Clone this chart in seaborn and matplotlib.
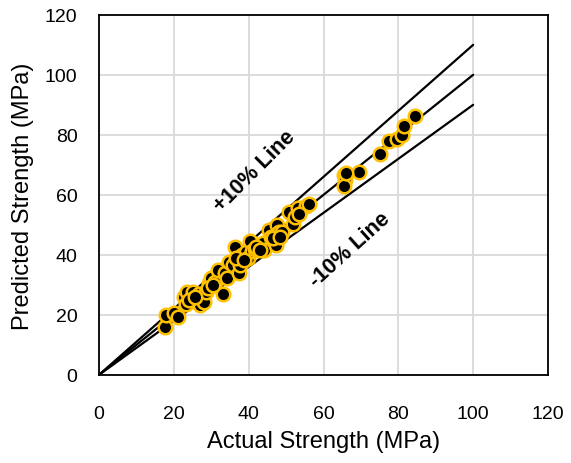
import numpy as np
import pandas as pd
import seaborn as sns
import matplotlib.pyplot as plt
from matplotlib.ticker import MultipleLocator

# actual vs predicted strength (MPa)
actual = [17.6, 17.8, 20.0, 21.2, 22.7, 23.6, 23.3, 25.1, 26.6, 27.0,
          28.0, 28.5, 29.5, 30.0, 30.9, 31.9, 33.1, 33.7, 34.3, 34.8,
          35.8, 36.3, 37.3, 37.7, 38.2, 39.2, 39.7, 40.4, 40.9, 41.6,
          43.8, 44.1, 45.3, 46.0, 47.3, 47.7, 48.2, 49.0, 50.9, 51.8,
          53.1, 55.3, 56.2, 65.5, 65.8, 65.5, 69.6, 75.0, 77.6, 79.6,
          81.0, 81.5, 84.4, 24.1, 25.6, 29.0, 30.4, 36.6, 38.7, 42.0,
          43.1, 46.6, 48.5, 52.3, 53.5, 66.0]
predicted = [16.1, 20.0, 20.5, 19.4, 26.0, 27.7, 23.5, 27.7, 26.8, 23.3,
             24.4, 27.7, 30.5, 32.2, 31.0, 34.9, 26.8, 33.8, 32.2, 37.7,
             36.6, 42.7, 33.8, 36.6, 39.9, 41.0, 38.8, 44.6, 41.4, 42.1,
             43.8, 41.6, 48.2, 46.0, 43.2, 49.9, 47.7, 47.7, 54.3, 50.4,
             55.7, 56.3, 56.8, 66.5, 64.9, 63.0, 67.6, 73.5, 77.8, 78.7,
             80.0, 82.8, 86.3, 25.0, 26.0, 28.8, 29.9, 38.8, 38.2, 42.7,
             41.6, 45.5, 46.0, 52.6, 53.7, 67.4]

line_x = [0, 100]
line_factors = [1.1, 1.0, 0.9]

df = pd.DataFrame({"Actual": actual, "Predicted": predicted})

sns.set_style("white")
plt.rcParams["font.family"] = ["Liberation Sans", "DejaVu Sans"]
plt.rcParams["text.color"] = "black"
plt.rcParams["axes.labelcolor"] = "black"

fig = plt.figure(figsize=(5.71, 4.64), dpi=100, facecolor="white")
ax = fig.add_axes([0.1734, 0.19, 0.7863, 0.7759])

# reference lines (+10%, 1:1, -10%)
for f in line_factors:
    ax.plot(line_x, [v * f for v in line_x], color="black", lw=1.6, zorder=2)

sns.scatterplot(data=df, x="Actual", y="Predicted", ax=ax,
                color="black", edgecolor="#FFC000", linewidth=1.8,
                s=95, zorder=3)

ax.text(41.5, 68, "+10% Line", rotation=45, ha="center", va="center",
        fontsize=15.5, fontweight="bold", color="black")
ax.text(67, 42, "-10% Line", rotation=42, ha="center", va="center",
        fontsize=15.5, fontweight="bold", color="black")

ax.set_xlim(0, 120)
ax.set_ylim(0, 120)
ax.xaxis.set_major_locator(MultipleLocator(20))
ax.yaxis.set_major_locator(MultipleLocator(20))
ax.xaxis.set_minor_locator(MultipleLocator(4))
ax.yaxis.set_minor_locator(MultipleLocator(4))
ax.grid(True, which="major", color="#d9d9d9", lw=1.3, zorder=0)
ax.set_axisbelow(True)
ax.tick_params(which="major", direction="inout", length=9, width=1.3,
               labelsize=14, colors="black")
ax.tick_params(axis="x", which="major", pad=17)
ax.tick_params(axis="y", which="major", pad=11)
ax.tick_params(which="minor", direction="in", length=5, width=1.3)
for sp in ax.spines.values():
    sp.set_color("black")
    sp.set_linewidth(1.3)

ax.set_xlabel("Actual Strength (MPa)", fontsize=17, labelpad=6)
ax.set_ylabel("Predicted Strength (MPa)", fontsize=17, labelpad=8)

fig.savefig("out.png", dpi=100)
